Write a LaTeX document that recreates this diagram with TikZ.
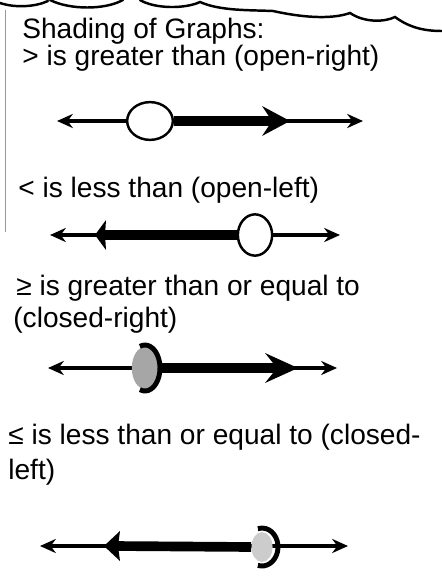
\documentclass[tikz,border=0pt]{standalone}
\usepackage{fontspec}
\setmainfont{Liberation Sans}
\usetikzlibrary{arrows.meta,shapes.geometric}

\begin{document}
\begin{tikzpicture}[x=0.02cm, y=-0.02cm,
  lbl/.style={anchor=base west, inner sep=0pt, font=\fontsize{16}{19}\selectfont},
  axisln/.style={line width=1.9pt, {Stealth[length=9pt,width=8pt]}-{Stealth[length=9pt,width=8pt]}},
  shade/.style={line width=5.5pt},
  opendot/.style={ellipse, draw, line width=1.4pt, fill=white, inner sep=0pt},
  closedot/.style={ellipse, fill=black!35, inner sep=0pt},
  rim/.style={line width=2.8pt},
  scallop/.style={line width=1.4pt, line cap=round},
]
\fill[white] (0,0) rectangle (442,581);
\useasboundingbox (0,0) rectangle (442,581);

% Rand oben und links
\draw[scallop] (0,3) .. controls (15,8) and (35,7) .. (48,1);
\draw[scallop] (50,0) .. controls (70,10) and (105,10) .. (123,0);
\draw[scallop] (140,0) .. controls (155,9) and (185,9) .. (200,2)
  .. controls (220,11) and (250,10) .. (273,11)
  .. controls (300,17) and (330,20) .. (350,13)
  .. controls (365,23) and (385,22) .. (395,17)
  .. controls (410,28) and (425,31) .. (442,31);
\draw[black!40, line width=0.5pt] (5,10) -- (5,232);

% Texte
\node[lbl] (t0) at (22,39)  {Shading of Graphs:};
\node[lbl] (t1) at (22,66)  {> is greater than (open-right)};
\node[lbl] (t2) at (18,197) {< is less than (open-left)};
\node[lbl] (t3) at (16,295) {≥ is greater than or equal to};
\node[lbl] (t4) at (13,327) {(closed-right)};
\node[lbl] (t5) at (8,444)  {≤ is less than or equal to (closed-};
\node[lbl] (t6) at (8,479)  {left)};

% Zahlenstrahl 1: offen, nach rechts
\coordinate (l1) at (57,121);  \coordinate (r1) at (363,121);
\coordinate (c1) at (290,121); \coordinate (e1) at (272,121);
\draw[axisln] (l1) -- (r1);
\node[opendot, minimum width=26pt, minimum height=21.5pt] (o1) at (150,121) {};
\draw[shade] (o1) -- (e1);
\fill (c1) -- ++(-28,-15) -- ++(10,15) -- ++(-10,15) -- cycle;

% Zahlenstrahl 2: offen, nach links
\coordinate (l2) at (50,235);  \coordinate (r2) at (340,235);
\coordinate (f2) at (95,235);  \coordinate (s2) at (103,235);
\draw[axisln] (l2) -- (r2);
\node[opendot, minimum width=19.5pt, minimum height=23.5pt] (o2) at (255,235) {};
\draw[shade] (s2) -- (o2);
\fill (f2) -- ++(11,-15) -- ++(-1,15) -- ++(1,15) -- cycle;

% Zahlenstrahl 3: geschlossen, nach rechts
\coordinate (l3) at (48,368);  \coordinate (r3) at (337,368);
\coordinate (c3) at (298,368); \coordinate (e3) at (280,368);
\draw[axisln] (l3) -- (r3);
\node[closedot, minimum width=15pt, minimum height=24pt] (d3) at (145,368) {};
\draw[shade] (d3.east) -- (e3);
\fill (c3) -- ++(-33,-15) -- ++(12,15) -- ++(-12,15) -- cycle;
\draw[rim] ([shift={(110:15 and 23)}]d3) arc[start angle=110, end angle=-110, x radius=15, y radius=23];

% Zahlenstrahl 4: geschlossen, nach links
\coordinate (l4) at (40,546);  \coordinate (r4) at (348,546);
\coordinate (f4) at (104,546); \coordinate (s4) at (114,546);
\draw[axisln] (l4) -- (r4);
\node[closedot, fill=black!20, minimum width=12pt, minimum height=17pt] (d4) at (262,547) {};
\draw[shade] (s4) -- (d4.west);
\fill (f4) -- ++(16,-15) -- ++(-2,15) -- ++(2,15) -- cycle;
\draw[rim] ([shift={(105:16 and 19)}]d4) arc[start angle=105, end angle=-105, x radius=16, y radius=19];

\end{tikzpicture}
\end{document}
